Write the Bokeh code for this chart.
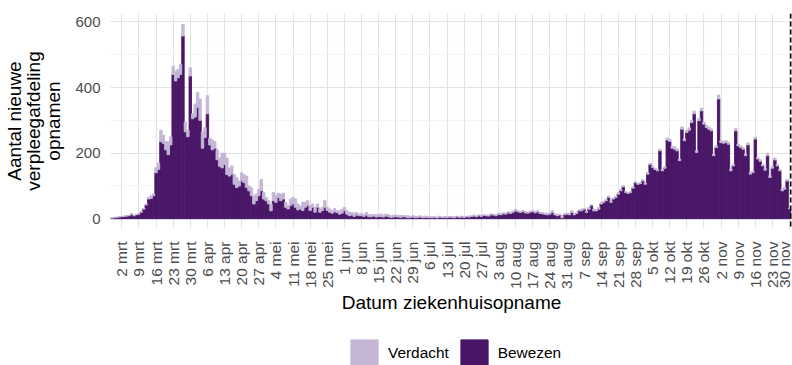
import pandas as pd
from bokeh.plotting import figure
from bokeh.layouts import column
from bokeh.models import (ColumnDataSource, FixedTicker, SingleIntervalTicker, Span,
                          Legend, LegendItem, Range1d, LinearAxis)
from bokeh.embed import file_html
from bokeh.resources import INLINE

# ---------------- data ----------------
start_date = "2020-02-27"
ref_date = "2020-03-02"
tick_dates = pd.date_range("2020-03-02", "2020-11-30", freq="7D")
tick_labels = ["2 mrt", "9 mrt", "16 mrt", "23 mrt", "30 mrt", "6 apr", "13 apr", "20 apr",
               "27 apr", "4 mei", "11 mei", "18 mei", "25 mei", "1 jun", "8 jun", "15 jun",
               "22 jun", "29 jun", "6 jul", "13 jul", "20 jul", "27 jul", "3 aug", "10 aug",
               "17 aug", "24 aug", "31 aug", "7 sep", "14 sep", "21 sep", "28 sep", "5 okt",
               "12 okt", "19 okt", "26 okt", "2 nov", "9 nov", "16 nov", "23 nov", "30 nov"]
y_title_lines = ["Aantal nieuwe", "verpleegafdeling", "opnamen"]
x_title = "Datum ziekenhuisopname"
series_names = ["Bewezen", "Verdacht"]

bewezen = [
    2, 3, 4, 5,
    6, 7, 8, 9, 13, 9, 12,
    14, 20, 29, 42, 60, 62, 70,
    140, 150, 235, 230, 210, 195, 225,
    440, 420, 430, 440, 557, 265, 250,
    435, 305, 310, 340, 300, 215, 248,
    320, 225, 210, 215, 180, 160, 155,
    165, 135, 130, 136, 105, 95, 100,
    115, 110, 95, 85, 70, 45, 55,
    70, 85, 60, 55, 45, 24, 55,
    50, 65, 55, 60, 35, 30, 40,
    45, 35, 27, 30, 25, 35, 40,
    25, 35, 20, 35, 20, 25, 35,
    25, 20, 17, 21, 19, 14, 17,
    24, 14, 9, 11, 7, 11, 9,
    9, 7, 11, 6, 6, 8, 5,
    7, 6, 5, 8, 6, 4, 5,
    6, 5, 4, 6, 5, 3, 4,
    5, 3, 4, 5, 3, 4, 4,
    3, 3, 4, 2, 5, 3, 4,
    3, 5, 4, 3, 6, 4, 5,
    4, 6, 5, 7, 8, 6, 9,
    7, 10, 9, 8, 12, 11, 9,
    13, 12, 15, 14, 18, 16, 20,
    24, 21, 19, 22, 18, 17, 20,
    22, 18, 21, 16, 15, 13, 12,
    14, 19, 12, 9, 11, 3, 12,
    14, 12, 19, 12, 16, 24, 24,
    29, 19, 29, 40, 24, 24, 29,
    45, 50, 55, 65, 50, 60, 65,
    75, 85, 97, 80, 77, 80, 93,
    110, 105, 107, 115, 105, 136, 165,
    156, 150, 146, 207, 146, 154, 240,
    236, 215, 212, 207, 177, 273, 238,
    263, 270, 293, 320, 202, 299, 329,
    288, 278, 273, 268, 192, 217, 365,
    232, 230, 233, 227, 146, 161, 268,
    222, 217, 212, 192, 225, 136, 141,
    243, 182, 175, 161, 148, 192, 126,
    154, 179, 161, 146, 85, 90, 115,
    30,
]

verdacht = [
    0, 1, 1, 1,
    1, 1, 1, 1, 3, 1, 1,
    1, 2, 3, 3, 5, 8, 5,
    16, 20, 35, 25, 25, 40, 25,
    25, 30, 25, 30, 35, 30, 20,
    25, 15, 40, 45, 65, 50, 30,
    55, 20, 30, 20, 30, 25, 45,
    35, 50, 25, 25, 30, 30, 15,
    25, 25, 35, 15, 25, 25, 20,
    20, 35, 20, 10, 10, 20, 25,
    20, 13, 20, 18, 15, 10, 20,
    20, 25, 18, 8, 25, 15, 15,
    15, 10, 15, 10, 10, 10, 20,
    10, 10, 7, 10, 5, 10, 12,
    10, 10, 10, 8, 10, 8, 5,
    7, 6, 8, 7, 6, 5, 7,
    6, 8, 5, 6, 7, 5, 6,
    5, 5, 6, 4, 4, 6, 3,
    4, 5, 3, 4, 3, 4, 2,
    3, 3, 2, 3, 3, 2, 3,
    3, 2, 3, 3, 2, 2, 3,
    2, 2, 3, 2, 3, 2, 3,
    2, 3, 2, 3, 3, 2, 3,
    3, 3, 3, 3, 3, 3, 3,
    4, 3, 3, 3, 3, 3, 3,
    3, 3, 3, 3, 3, 4, 4,
    3, 5, 3, 3, 3, 4, 3,
    2, 4, 5, 3, 3, 3, 5,
    3, 3, 5, 3, 5, 3, 5,
    5, 3, 3, 4, 3, 3, 3,
    5, 4, 4, 3, 3, 3, 4,
    3, 3, 3, 5, 3, 5, 4,
    4, 4, 4, 5, 5, 5, 6,
    6, 6, 7, 6, 5, 7, 6,
    6, 7, 7, 8, 5, 7, 8,
    7, 6, 7, 6, 5, 6, 12,
    6, 6, 5, 6, 5, 5, 7,
    6, 5, 5, 6, 6, 5, 4,
    6, 5, 5, 5, 5, 8, 5,
    6, 6, 5, 5, 6, 5, 5,
    2,
]

cutoff_date = "2020-11-30 11:00"

# ---------------- build ----------------
ref = pd.Timestamp(ref_date)
dates = pd.date_range(start_date, periods=len(bewezen), freq="D")
x = [(d - ref).days for d in dates]
tick_pos = [(d - ref).days for d in tick_dates]
cutoff_x = (pd.Timestamp(cutoff_date) - ref) / pd.Timedelta(days=1)

src = ColumnDataSource(dict(x=x, Bewezen=bewezen, Verdacht=verdacht))

DARK = "#4A1768"
LIGHT = "#C5B6D6"
FONT = "Liberation Sans"
TITLE_SIZE = "19px"

p = figure(width=792, height=320, output_backend="svg", toolbar_location=None,
           x_range=Range1d(-4.62, 274.2), y_range=Range1d(-29.8, 625.8),
           min_border_left=110, min_border_right=0, min_border_top=13,
           min_border_bottom=92)
p.outline_line_color = None

rs = p.vbar_stack(series_names, x="x", width=1.0, source=src,
                  fill_color=[DARK, LIGHT], line_color=[DARK, LIGHT], line_width=0.9)

p.add_layout(Span(location=cutoff_x, dimension="height", line_color="black",
                  line_dash="5 3", line_width=1.6))

# axes
p.xaxis.ticker = FixedTicker(ticks=tick_pos)
p.xaxis.major_label_overrides = {t: l for t, l in zip(tick_pos, tick_labels)}
p.xaxis.major_label_orientation = 3.14159265 / 2
p.yaxis.ticker = SingleIntervalTicker(interval=200, num_minor_ticks=2)

# extra (label-only) left axes for the remaining title lines
for line, so in zip(y_title_lines[1::-1], (-3, -5)):
    ax = LinearAxis(ticker=FixedTicker(ticks=[]), axis_label=line,
                    axis_label_standoff=so, major_label_standoff=0)
    p.add_layout(ax, "left")

for ax in [p.xaxis[0]] + list(p.yaxis):
    ax.axis_line_color = None
    ax.major_tick_line_color = None
    ax.minor_tick_line_color = None
    ax.major_tick_out = 0
    ax.minor_tick_out = 0
    ax.major_label_text_font = FONT
    ax.major_label_text_font_size = "15px"
    ax.major_label_text_color = "#4D4D4D"
    ax.axis_label_text_font = FONT
    ax.axis_label_text_font_size = TITLE_SIZE
    ax.axis_label_text_font_style = "normal"
    ax.axis_label_text_color = "black"

p.xaxis.major_label_text_font_size = "15.5px"
p.xaxis.major_label_standoff = 13
p.xaxis.axis_label = x_title
p.xaxis.axis_label_standoff = 0
p.yaxis[0].major_label_standoff = 10
p.yaxis[0].axis_label = y_title_lines[2]
p.yaxis[0].axis_label_standoff = 8

p.xgrid.grid_line_color = "#E3E3E3"
p.xgrid.grid_line_width = 1.1
p.ygrid.grid_line_color = "#E3E3E3"
p.ygrid.grid_line_width = 1.1
p.ygrid.minor_grid_line_color = "#EEEEEE"
p.ygrid.minor_grid_line_width = 0.6

# ---------------- legend strip ----------------
lg = figure(width=792, height=45, output_backend="svg", toolbar_location=None,
            x_axis_location=None, y_axis_location=None,
            min_border=0, x_range=Range1d(0, 1), y_range=Range1d(0, 1))
lg.outline_line_color = None
lg.grid.visible = False
# off-screen proxies that only carry the legend styling
r_v = lg.vbar(x=[-5], top=[0], width=0.1, fill_color=LIGHT, line_color=LIGHT)
r_b = lg.vbar(x=[-5], top=[0], width=0.1, fill_color=DARK, line_color=DARK)
legend = Legend(items=[LegendItem(label=series_names[1], renderers=[r_v]),
                       LegendItem(label=series_names[0], renderers=[r_b])],
                orientation="horizontal", location=(237, -5),
                glyph_width=34, glyph_height=34, label_standoff=7, spacing=8,
                padding=0, margin=0, border_line_color=None,
                background_fill_alpha=0,
                label_text_font=FONT, label_text_font_size="15.4px",
                label_text_color="black")
lg.add_layout(legend)

layout = column(p, lg, spacing=0)
open("out.html", "w").write(file_html(layout, INLINE))
